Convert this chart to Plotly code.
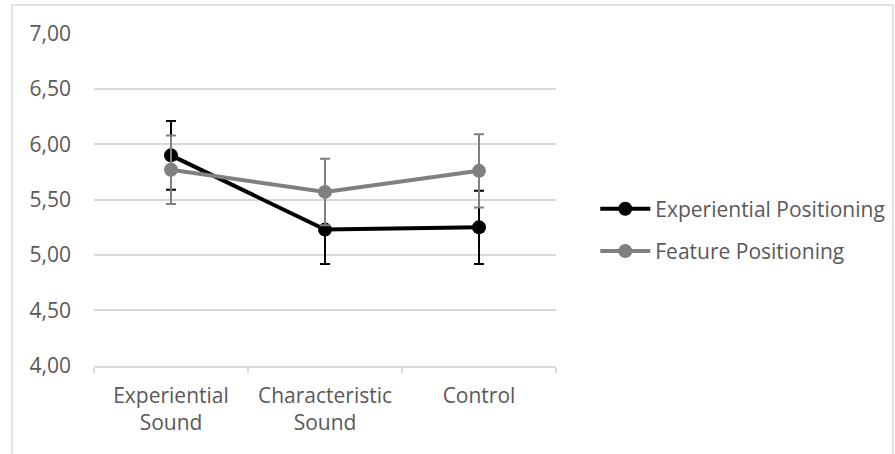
import plotly.graph_objects as go

categories = ["Experiential<br>Sound", "Characteristic<br>Sound", "Control"]
exp_pos = [5.90, 5.23, 5.25]
exp_err = [0.31, 0.31, 0.33]
feat_pos = [5.77, 5.57, 5.76]
feat_err = [0.31, 0.30, 0.33]
y_ticks = [4.0, 4.5, 5.0, 5.5, 6.0, 6.5, 7.0]

BLACK = "#000000"
GRAY = "#808080"
TXT = "#595959"
GRID = "#d9d9d9"
FONT = "Open Sans"
FS = 21

fig = go.Figure()
fig.add_trace(go.Scatter(
    x=categories, y=exp_pos, name="Experiential Positioning", mode="lines+markers",
    line=dict(color=BLACK, width=4), marker=dict(color=BLACK, size=14),
    error_y=dict(type="data", array=exp_err, color=BLACK, thickness=2, width=5),
    legendgroup="a"))
fig.add_trace(go.Scatter(
    x=categories, y=feat_pos, name="Feature Positioning", mode="lines+markers",
    line=dict(color=GRAY, width=4), marker=dict(color=GRAY, size=14),
    error_y=dict(type="data", array=feat_err, color=GRAY, thickness=2, width=5),
    legendgroup="b"))

fig.update_layout(
    width=895, height=454,
    margin=dict(l=94, r=339, t=33, b=88, autoexpand=False),
    paper_bgcolor="white", plot_bgcolor="white",
    separators=", ",
    font=dict(family=FONT, color=TXT, size=FS),
    legend=dict(x=1.085, y=0.408, xanchor="left", yanchor="middle",
                font=dict(size=FS, color=TXT), tracegroupgap=12, itemwidth=50),
    showlegend=True,
    shapes=[dict(type="rect", xref="paper", yref="paper",
                 x0=-82/462, x1=(893-94)/462, y0=-(454-366+10)/333, y1=1+28/333,
                 line=dict(color=GRID, width=1.5), fillcolor="rgba(0,0,0,0)", layer="below")],
)
fig.update_yaxes(range=[3.999, 7.004], tickvals=y_ticks, tickformat=".2f",
                 showgrid=True, gridcolor=GRID, gridwidth=1.5, zeroline=False,
                 showline=False, ticks="", ticklabelstandoff=22,
                 tickfont=dict(size=FS, color=TXT))
fig.update_xaxes(range=[-0.5, 2.5], showgrid=False, showline=True, linecolor=GRID,
                 linewidth=1.5, ticks="outside", tickson="boundaries", ticklen=5,
                 tickcolor=GRID, tickwidth=1.5, ticklabelstandoff=10,
                 tickfont=dict(size=FS, color=TXT))

fig.write_html("out.html")
